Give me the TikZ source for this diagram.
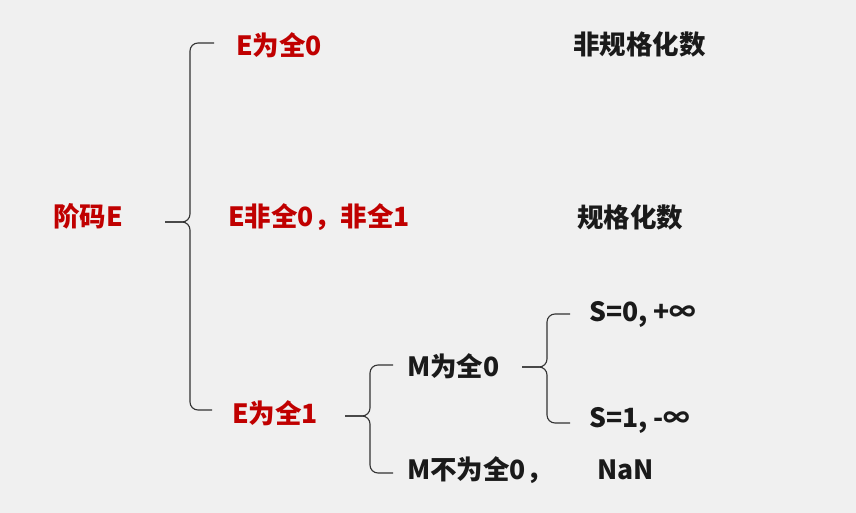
\documentclass[tikz,border=0pt]{standalone}
\usepackage{fontspec}
\setmainfont{Noto Sans CJK SC}
\usetikzlibrary{calc}
\definecolor{bgcol}{HTML}{F0F0F0}
\definecolor{redc}{HTML}{C00000}
\definecolor{blkc}{HTML}{1A1A1A}
\definecolor{linec}{HTML}{333333}
\begin{document}
\begin{tikzpicture}[x=1pt,y=-1pt,
  lbl/.style={font=\bfseries\fontsize{26.5}{30}\selectfont, inner sep=0pt, anchor=west},
  redtxt/.style={lbl, text=redc},
  blktxt/.style={lbl, text=blkc},
  brace/.style={draw=linec, line width=1.1pt, rounded corners=8pt}]
\fill[bgcol] (0,0) rectangle (856,513);
\useasboundingbox (0,0) rectangle (856,513);
% nodes
\node[redtxt] (root) at (53,216) {阶码E};
\node[redtxt] (e0) at (236,45) {E为全0};
\node[redtxt] (en) at (228,217) {E非全0，非全1};
\node[redtxt] (e1) at (232,413) {E为全1};
\node[blktxt] (dn) at (573,44) {非规格化数};
\node[blktxt] (nn) at (577,217) {规格化数};
\node[blktxt] (m0) at (407,366) {M为全0};
\node[blktxt] (mn) at (407,470) {M不为全0，};
\node[blktxt] (nan) at (597,470) {NaN};
\node[blktxt] (s0) at (589,314) {S=0, +∞};
\node[blktxt] (s1) at (589,420) {S=1, -∞};
% brace coordinates
\coordinate (t1) at ($(root.west)+(112,6)$);
\coordinate (a1) at ($(e0.west)+(-22,-2)$);
\coordinate (z1) at ($(e1.west)+(-20,-3)$);
\coordinate (t2) at ($(e1.west)+(113,3)$);
\coordinate (a2) at ($(m0.west)+(-14,-1)$);
\coordinate (z2) at ($(mn.west)+(-14,3)$);
\coordinate (t3) at ($(m0.west)+(115,1)$);
\coordinate (a3) at ($(s0.west)+(-19,0)$);
\coordinate (z3) at ($(s1.west)+(-19,3)$);
% braces
\draw[brace] (a1) -| ([xshift=25pt]t1) -- (t1);
\draw[brace] (t1) -- ([xshift=25pt]t1) |- (z1);
\draw[brace] (a2) -| ([xshift=25pt]t2) -- (t2);
\draw[brace] (t2) -- ([xshift=25pt]t2) |- (z2);
\draw[brace] (a3) -| ([xshift=25pt]t3) -- (t3);
\draw[brace] (t3) -- ([xshift=25pt]t3) |- (z3);
\end{tikzpicture}
\end{document}
